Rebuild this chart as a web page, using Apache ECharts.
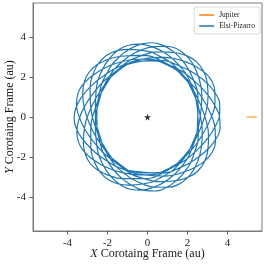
<!DOCTYPE html>
<html><head><meta charset="utf-8">
<script src="https://cdn.jsdelivr.net/npm/echarts@6/dist/echarts.min.js"></script>
<style>html,body{margin:0;padding:0;background:#fff}#c{width:266px;height:266px}</style>
</head><body><div id="c"></div>
<script>
// ---- data ----
const xTicks = [-4, -2, 0, 2, 4];
const yTicks = [-4, -2, 0, 2, 4];
const seriesNames = ['Jupiter', 'Elst-Pizarro'];
const jupiterX = [4.95, 5.46];
const jupiterY = [0, 0];
const sunX = [0];
const sunY = [0];
// Elst-Pizarro path in the corotating frame: polar angle (deg) and radius (au)
const elstTheta = [
  10, 36.8, 59, 75.4, 87.6, 96.8, 104.8, 112.7, 121.9, 134.1, 150.5, 172.7,
  199.5, 226.3, 248.5, 264.9, 277.1, 286.3, 294.3, 302.2, 311.4, 323.6, 340, 2.2,
  29, 55.8, 78, 94.4, 106.6, 115.8, 123.8, 131.7, 140.9, 153.1, 169.5, 191.7,
  218.5, 245.3, 267.5, 283.9, 296.1, 305.3, 313.3, 321.2, 330.4, 342.6, 359, 21.2,
  48, 74.8, 97, 113.4, 125.6, 134.8, 142.8, 150.7, 159.9, 172.1, 188.5, 210.7,
  237.5, 264.3, 286.5, 302.9, 315.1, 324.3, 332.3, 340.2, 349.4, 1.6, 18, 40.2,
  67, 93.8, 116, 132.4, 144.6, 153.8, 161.8, 169.7, 178.9, 191.1, 207.5, 229.7,
  256.5, 283.3, 305.5, 321.9, 334.1, 343.3, 351.3, 359.2, 8.4, 20.6, 37, 59.2,
  86, 112.8, 135, 151.4, 163.6, 172.8, 180.8, 188.7, 197.9, 210.1, 226.5, 248.7,
  275.5, 302.3, 324.5, 340.9, 353.1, 2.3, 10.3, 18.2, 27.4, 39.6, 56, 78.2,
  105, 131.8, 154, 170.4, 182.6, 191.8, 199.8, 207.7, 216.9, 229.1, 245.5, 267.7,
  294.5, 321.3, 343.5, 359.9, 12.1, 21.3, 29.3, 37.2, 46.4, 58.6, 75, 97.2,
  124, 150.8, 173, 189.4, 201.6, 210.8, 218.8, 226.7, 235.9, 248.1, 264.5, 286.7,
  313.5, 340.3, 2.5, 18.9, 31.1, 40.3, 48.3, 56.2, 65.4, 77.6, 94, 116.2,
  143, 169.8, 192, 208.4, 220.6, 229.8, 237.8, 245.7, 254.9, 267.1, 283.5, 305.7,
  332.5, 359.3, 21.5, 37.9, 50.1, 59.3, 67.3, 75.2, 84.4, 96.6, 113, 135.2,
  162, 188.8, 211, 227.4, 239.6, 248.8, 256.8, 264.7, 273.9, 286.1, 302.5, 324.7,
  351.5, 18.3, 40.5, 56.9, 69.1, 78.3, 86.3, 94.2, 103.4, 115.6, 132, 154.2,
  181, 207.8, 230, 246.4, 258.6, 267.8, 275.8, 283.7, 292.9, 305.1, 321.5, 343.7,
  10.5
];
const elstR = [
  2.53, 2.73, 3.04, 3.33, 3.54, 3.67, 3.71, 3.66, 3.51, 3.26, 2.94, 2.63,
  2.56, 2.77, 3.07, 3.34, 3.54, 3.66, 3.71, 3.65, 3.50, 3.24, 2.91, 2.63,
  2.59, 2.81, 3.09, 3.34, 3.53, 3.66, 3.70, 3.64, 3.48, 3.22, 2.89, 2.64,
  2.64, 2.85, 3.10, 3.33, 3.52, 3.65, 3.69, 3.63, 3.46, 3.20, 2.89, 2.67,
  2.69, 2.88, 3.10, 3.31, 3.51, 3.64, 3.68, 3.62, 3.45, 3.19, 2.89, 2.70,
  2.73, 2.90, 3.08, 3.29, 3.49, 3.63, 3.68, 3.61, 3.44, 3.19, 2.91, 2.74,
  2.77, 2.90, 3.06, 3.27, 3.47, 3.62, 3.67, 3.61, 3.44, 3.19, 2.93, 2.79,
  2.80, 2.88, 3.03, 3.24, 3.46, 3.61, 3.67, 3.61, 3.44, 3.20, 2.96, 2.83,
  2.81, 2.86, 2.99, 3.22, 3.45, 3.61, 3.67, 3.61, 3.45, 3.22, 3.00, 2.86,
  2.81, 2.82, 2.96, 3.20, 3.44, 3.61, 3.67, 3.61, 3.46, 3.25, 3.03, 2.89,
  2.80, 2.78, 2.93, 3.19, 3.44, 3.61, 3.67, 3.62, 3.48, 3.27, 3.06, 2.90,
  2.77, 2.74, 2.90, 3.19, 3.45, 3.61, 3.68, 3.63, 3.49, 3.30, 3.09, 2.89,
  2.72, 2.69, 2.89, 3.19, 3.45, 3.62, 3.69, 3.64, 3.51, 3.32, 3.10, 2.88,
  2.68, 2.66, 2.89, 3.20, 3.47, 3.63, 3.69, 3.65, 3.52, 3.33, 3.10, 2.85,
  2.63, 2.64, 2.90, 3.22, 3.48, 3.64, 3.70, 3.66, 3.53, 3.34, 3.09, 2.81,
  2.59, 2.63, 2.92, 3.24, 3.50, 3.65, 3.71, 3.66, 3.54, 3.34, 3.07, 2.76,
  2.55, 2.64, 2.94, 3.27, 3.51, 3.66, 3.71, 3.67, 3.54, 3.33, 3.04, 2.72,
  2.53, 2.66, 2.98, 3.29, 3.53, 3.67, 3.72, 3.67, 3.53, 3.31, 3.00, 2.68,
  2.53, 2.69, 3.01, 3.31, 3.53, 3.67, 3.72, 3.67, 3.52, 3.29, 2.97, 2.65,
  2.54
];

// ---- layout ----
const W = 266, H = 266;
const gL = 33, gR = 4, gT = 3, gB = 35;
const xMin = -5.725, xMax = 5.725, yMin = -5.7, yMax = 5.7;
const gW = W - gL - gR, gH = H - gT - gB;
const FONT = 'Liberation Serif';
const TXT = '#1a1a1a';
const SPINE = '#7a7a7a';

const elstData = elstR.map((r, i) => [r, elstTheta[i]]);
const jupData = jupiterX.map((x, i) => [x, jupiterY[i]]);
const sunData = sunX.map((x, i) => [x, sunY[i]]);

const chart = echarts.init(document.getElementById('c'), null, {renderer: 'canvas'});
chart.setOption({
  animation: false,
  backgroundColor: '#fff',
  grid: {left: gL, right: gR, top: gT, bottom: gB, containLabel: false, outerBoundsMode: 'none',
    show: true, borderColor: SPINE, borderWidth: 1, backgroundColor: 'transparent'},
  polar: {center: [gL + gW / 2, gT + gH / 2], radius: gW / 2},
  angleAxis: {type: 'value', min: 0, max: 360, startAngle: 0, clockwise: false, show: false,
    axisLine: {show: false}, axisTick: {show: false}, axisLabel: {show: false}, splitLine: {show: false}},
  radiusAxis: {type: 'value', min: 0, max: xMax, show: false,
    axisLine: {show: false}, axisTick: {show: false}, axisLabel: {show: false}, splitLine: {show: false}},
  xAxis: {
    type: 'value', min: xMin, max: xMax,
    name: '{i|X} Corotaing Frame (au)', nameLocation: 'middle', nameGap: 17, nameMoveOverlap: false,
    nameTextStyle: {fontFamily: FONT, fontSize: 12, color: TXT, rich: {i: {fontStyle: 'italic', fontFamily: FONT, fontSize: 12, color: TXT}}},
    axisLine: {show: true, onZero: false, lineStyle: {color: SPINE, width: 1}},
    axisTick: {show: true, length: 3.5, customValues: xTicks, lineStyle: {color: '#333', width: 0.8}},
    axisLabel: {customValues: xTicks, fontFamily: FONT, fontSize: 11, color: TXT, margin: 7},
    splitLine: {show: false}
  },
  yAxis: {
    type: 'value', min: yMin, max: yMax,
    name: '{i|Y} Corotaing Frame (au)', nameLocation: 'middle', nameGap: 17, nameRotate: 90, nameMoveOverlap: false,
    nameTextStyle: {fontFamily: FONT, fontSize: 12, color: TXT, rich: {i: {fontStyle: 'italic', fontFamily: FONT, fontSize: 12, color: TXT}}},
    axisLine: {show: true, onZero: false, lineStyle: {color: SPINE, width: 1}},
    axisTick: {show: true, length: 3.5, customValues: yTicks, lineStyle: {color: '#333', width: 0.8}},
    axisLabel: {customValues: yTicks, fontFamily: FONT, fontSize: 11, color: TXT, margin: 7},
    splitLine: {show: false}
  },
  legend: {
    data: [{name: seriesNames[0], icon: 'rect'}, {name: seriesNames[1], icon: 'rect'}],
    orient: 'vertical', right: 6, top: 7,
    itemWidth: 15, itemHeight: 1.5, itemGap: 3,
    padding: [4, 5, 4, 5],
    borderColor: '#d0d0d0', borderWidth: 0.8, borderRadius: 2, backgroundColor: '#fff',
    textStyle: {fontFamily: FONT, fontSize: 7.5, color: TXT, padding: [0, 0, 0, 0]}
  },
  series: [
    {
      name: seriesNames[0], type: 'line', coordinateSystem: 'cartesian2d',
      data: jupData, showSymbol: false, symbol: 'none',
      lineStyle: {color: '#ff7f0e', width: 1}, itemStyle: {color: '#ff7f0e'}, z: 3
    },
    {
      name: seriesNames[1], type: 'line', coordinateSystem: 'polar',
      data: elstData, showSymbol: false, symbol: 'none', smooth: 0.5,
      lineStyle: {color: '#1f77b4', width: 1.2}, itemStyle: {color: '#1f77b4'}, z: 2
    },
    {
      name: 'Sun', type: 'scatter', coordinateSystem: 'cartesian2d',
      data: sunData, symbol: 'path://M50,0 L61,35 L98,35 L68,57 L79,91 L50,70 L21,91 L32,57 L2,35 L39,35 Z',
      symbolSize: 7, itemStyle: {color: '#000'}, z: 4
    }
  ]
});
</script>
</body></html>
